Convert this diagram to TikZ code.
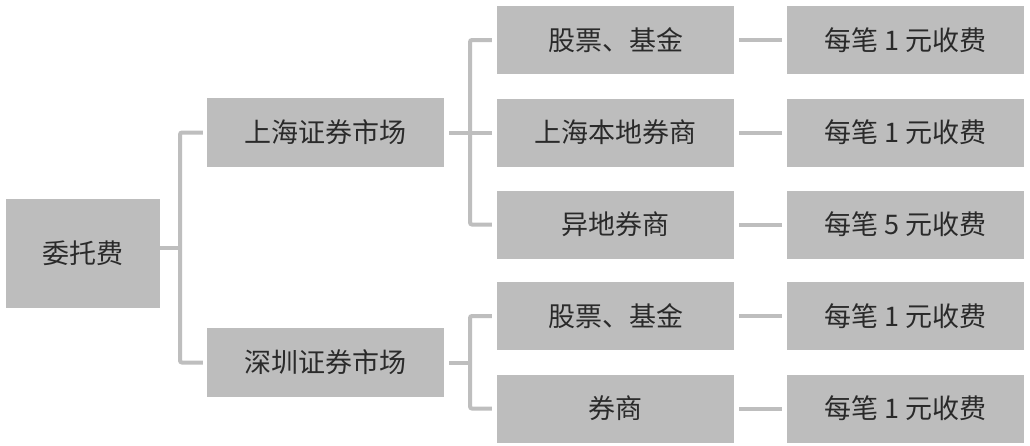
\documentclass[tikz,border=0pt]{standalone}
\usepackage{fontspec}
\newfontfamily\cjk{Noto Sans CJK SC}
\definecolor{boxgray}{HTML}{BDBDBD}
\definecolor{linegray}{HTML}{BEBEBE}
\definecolor{txt}{HTML}{2A2A2A}
\tikzset{
  box/.style={fill=boxgray, draw=none, inner sep=0pt, minimum width=237pt, minimum height=68pt,
    font=\cjk\fontsize{27}{32}\selectfont, text=txt},
  rootbox/.style={box, minimum width=154pt, minimum height=109pt},
  conn/.style={draw=linegray, line width=4pt, rounded corners=2pt},
}
\begin{document}
\begin{tikzpicture}[x=1pt,y=-1pt]
\useasboundingbox[fill=white] (0,0) rectangle (1030,445);
% nodes
\node[rootbox] (root) at (83,253.5) {委托费};
\node[box, minimum height=69pt] (sh) at (325.5,132.5) {上海证券市场};
\node[box, minimum height=69pt] (sz) at (325.5,362.5) {深圳证券市场};
\node[box] (a1) at (615.5,40) {股票、基金};
\node[box] (a2) at (615.5,132.5) {上海本地券商};
\node[box] (a3) at (615.5,224.5) {异地券商};
\node[box] (a4) at (615.5,316) {股票、基金};
\node[box] (a5) at (615.5,408.5) {券商};
\node[box] (b1) at (905.5,40) {每笔 1 元收费};
\node[box] (b2) at (905.5,132.5) {每笔 1 元收费};
\node[box] (b3) at (905.5,224.5) {每笔 5 元收费};
\node[box] (b4) at (905.5,316) {每笔 1 元收费};
\node[box] (b5) at (905.5,408.5) {每笔 1 元收费};
% junctions
\coordinate (j0) at (180,247.5);
\coordinate (j1) at (470,132.5);
\coordinate (j2) at (470,362.5);
% root bracket
\draw[conn] (j0 -| root.east) -- (j0);
\draw[conn] ([xshift=-4pt]sh.west) -| (j0) |- ([xshift=-4pt]sz.west);
% Shanghai bracket
\draw[conn] ([xshift=5pt]sh.east) -- (j1);
\draw[conn] ([xshift=-5pt]a1.west) -| (j1) |- ([xshift=-5pt]a3.west);
\draw[conn] (j1) -- ([xshift=-5pt]a2.west);
% Shenzhen bracket
\draw[conn] ([xshift=5pt]sz.east) -- (j2);
\draw[conn] ([xshift=-5pt]a4.west) -| (j2) |- ([xshift=-5pt]a5.west);
% fee connectors
\foreach \i in {1,...,5}{
  \draw[conn] ([xshift=5pt]a\i.east) -- ([xshift=-5pt]b\i.west);
}
\end{tikzpicture}
\end{document}
